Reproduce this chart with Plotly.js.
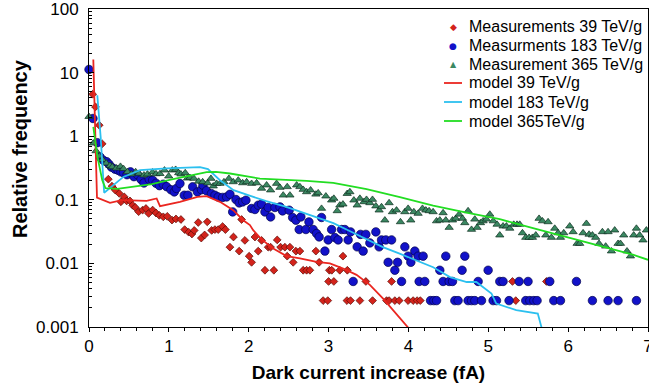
<!DOCTYPE html>
<html>
<head>
<meta charset="utf-8">
<script src="https://cdn.plot.ly/plotly-3.0.1.min.js"></script>
<style>html,body{margin:0;padding:0;background:#fff;}#chart{width:649px;height:390px;}</style>
</head>
<body>
<div id="chart"></div>
<script>
// Measurements 39 TeV/g
const redX = [0.046,0.081,0.128,0.165,0.242,0.288,0.329,0.379,0.40,0.442,
  0.472,0.513,0.547,0.579,0.622,0.672,0.713,0.747,0.797,0.839,
  0.88,0.93,0.98,1.039,1.089,1.151,1.198,1.248,1.289,1.318,
  1.368,1.406,1.448,1.481,1.536,1.577,1.618,1.673,1.708,1.765,
  1.809,1.881,1.911,1.952,2.006,2.036,2.078,2.119,2.161,2.203,
  2.244,2.274,2.315,2.357,2.399,2.453,2.482,2.516,2.557,2.591,
  2.641,2.682,2.725,2.766,2.841,2.882,2.932,2.99,3.0,3.01,
  3.04,3.066,3.14,3.18,3.23,3.235,3.275,3.392,3.467,3.551,
  3.726,3.758,3.789,3.83,3.884,3.996,4.059,4.109,4.149,5.303,
  5.344,5.728];
const redY = [4.57,2.89,1.49,0.76,0.211,0.164,0.142,0.126,0.093,0.111,
  0.096,0.096,0.082,0.076,0.065,0.069,0.073,0.061,0.069,0.062,
  0.057,0.054,0.055,0.048,0.050,0.049,0.034,0.031,0.029,0.033,
  0.044,0.025,0.028,0.045,0.033,0.034,0.034,0.038,0.034,0.018,
  0.026,0.0156,0.049,0.023,0.013,0.0104,0.026,0.0156,0.023,0.0078,
  0.018,0.018,0.0078,0.0234,0.018,0.018,0.013,0.018,0.0104,0.0156,
  0.0156,0.0078,0.0078,0.0078,0.0156,0.0104,0.0026,0.0026,0.0052,0.0078,
  0.0078,0.0052,0.0078,0.013,0.0026,0.0078,0.0026,0.0026,0.0052,0.0026,
  0.0026,0.0026,0.0052,0.0026,0.0026,0.0026,0.0026,0.0026,0.0026,0.0052,
  0.0026,0.0052];

// Measurments 183 TeV/g
const blueX = [0,0.05,0.104,0.138,0.179,0.222,0.25,0.282,0.325,0.363,
  0.40,0.432,0.476,0.519,0.563,0.607,0.651,0.688,0.755,0.797,
  0.839,0.882,0.93,0.972,1.026,1.068,1.095,1.139,1.193,1.239,
  1.298,1.358,1.408,1.427,1.471,1.533,1.577,1.618,1.673,1.723,
  1.765,1.799,1.84,1.881,1.924,1.965,2.036,2.078,2.119,2.161,
  2.203,2.244,2.274,2.328,2.391,2.424,2.507,2.55,2.591,2.632,
  2.653,2.716,2.754,2.807,2.85,2.882,2.912,2.954,2.995,3.038,
  3.079,3.12,3.163,3.204,3.245,3.275,3.308,3.358,3.40,3.433,
  3.467,3.517,3.592,3.633,3.663,3.717,3.746,3.789,3.83,3.864,
  3.914,3.955,3.996,4.03,4.08,4.121,4.134,4.184,4.205,4.277,
  4.318,4.352,4.393,4.434,4.468,4.51,4.552,4.581,4.622,4.672,
  4.706,4.747,4.79,4.831,4.873,4.915,4.998,5.06,5.103,5.144,
  5.185,5.26,5.386,5.469,5.498,5.52,5.57,5.611,5.77,5.82,
  5.904,6.104,6.304,6.50,6.625,6.855];
const blueY = [11.2,1.90,0.79,0.473,0.420,0.397,0.363,0.326,0.303,0.292,
  0.275,0.267,0.248,0.275,0.231,0.248,0.209,0.184,0.209,0.203,
  0.182,0.167,0.176,0.161,0.144,0.133,0.151,0.180,0.118,0.118,
  0.160,0.133,0.144,0.170,0.139,0.125,0.118,0.111,0.109,0.111,
  0.122,0.0645,0.101,0.0894,0.0927,0.0986,0.073,0.0704,0.0822,0.0852,
  0.0645,0.0757,0.0538,0.0757,0.0774,0.0669,0.0686,0.0527,0.0478,0.0341,
  0.0538,0.0341,0.0449,0.0341,0.0295,0.0261,0.0527,0.0156,0.0234,0.0341,
  0.0255,0.0234,0.0341,0.0341,0.0234,0.0313,0.0052,0.0182,0.0286,0.0156,
  0.0286,0.021,0.0313,0.0182,0.0234,0.0234,0.0104,0.0234,0.0078,0.0104,
  0.0052,0.0182,0.013,0.0104,0.0156,0.013,0.0052,0.013,0.0052,0.0026,
  0.0026,0.0026,0.0078,0.0052,0.013,0.0052,0.0052,0.0026,0.0026,0.0078,
  0.013,0.0026,0.0026,0.0026,0.0052,0.0026,0.0078,0.0026,0.0026,0.0052,
  0.0052,0.0026,0.0052,0.0026,0.0052,0.0026,0.0026,0.0026,0.0052,0.0026,
  0.0026,0.0052,0.0026,0.0026,0.0026,0.0026];

// Measurement 365 TeV/g
const greenX = [0,0.054,0.088,0.129,0.169,0.215,0.263,0.292,0.342,0.394,
  0.432,0.482,0.529,0.584,0.626,0.688,0.732,0.795,0.839,0.889,
  0.945,0.998,1.043,1.085,1.123,1.151,1.205,1.233,1.264,1.314,
  1.373,1.423,1.486,1.527,1.556,1.598,1.64,1.69,1.752,1.806,
  1.869,1.924,1.974,2.036,2.099,2.161,2.224,2.274,2.349,2.391,
  2.432,2.482,2.516,2.60,2.641,2.682,2.725,2.775,2.841,2.87,
  2.912,2.966,3.038,3.066,3.108,3.141,3.18,3.233,3.267,3.317,
  3.358,3.392,3.442,3.475,3.517,3.55,3.592,3.633,3.663,3.705,
  3.758,3.80,3.851,3.90,3.955,3.996,4.03,4.068,4.121,4.176,
  4.218,4.259,4.309,4.352,4.393,4.434,4.468,4.51,4.552,4.593,
  4.635,4.677,4.706,4.747,4.79,4.831,4.86,4.902,4.935,4.977,
  5.019,5.062,5.11,5.144,5.185,5.227,5.269,5.319,5.36,5.394,
  5.428,5.469,5.511,5.553,5.595,5.636,5.678,5.72,5.749,5.791,
  5.832,5.874,5.904,5.945,6.02,6.062,6.112,6.145,6.187,6.229,
  6.262,6.304,6.345,6.387,6.429,6.47,6.50,6.542,6.583,6.625,
  6.655,6.696,6.737,6.78,6.821,6.855,6.896,6.937,6.98];
const greenY = [2.03,0.776,0.587,0.485,0.427,0.376,0.344,0.329,0.314,0.334,
  0.308,0.275,0.253,0.275,0.259,0.244,0.253,0.272,0.255,0.257,
  0.292,0.235,0.292,0.299,0.265,0.253,0.265,0.218,0.223,0.216,
  0.195,0.191,0.183,0.216,0.164,0.180,0.180,0.191,0.216,0.191,
  0.203,0.184,0.191,0.180,0.184,0.151,0.170,0.142,0.180,0.156,
  0.118,0.160,0.118,0.170,0.160,0.145,0.133,0.142,0.122,0.128,
  0.073,0.114,0.0986,0.105,0.0669,0.0822,0.0852,0.125,0.133,0.0986,
  0.0822,0.105,0.0927,0.101,0.0894,0.101,0.0796,0.0686,0.0774,0.0478,
  0.0894,0.0645,0.0686,0.0449,0.0645,0.073,0.0478,0.0645,0.0609,0.073,
  0.0686,0.0669,0.0645,0.0464,0.0478,0.0622,0.0478,0.0366,0.0478,0.0508,
  0.059,0.0508,0.0434,0.0669,0.0341,0.0494,0.0366,0.0434,0.0464,0.0494,
  0.059,0.0464,0.041,0.0278,0.0385,0.0385,0.0355,0.041,0.041,0.041,
  0.0301,0.0255,0.0255,0.0255,0.0278,0.0508,0.0464,0.0278,0.0449,0.0255,
  0.0355,0.0301,0.0255,0.0301,0.0385,0.0313,0.0205,0.0205,0.0301,0.0423,
  0.0286,0.0278,0.0255,0.0205,0.0313,0.0186,0.0313,0.0156,0.0333,0.0205,
  0.0205,0.0278,0.0156,0.013,0.0278,0.0355,0.0278,0.0232,0.0333];

// model 39 TeV/g
const model39X = [0.054,0.10,0.263,0.409,0.722,0.847,0.889,1.139,1.358,1.473,
  1.64,1.806,1.931,2.015,2.056,2.161,2.307,2.474,2.641,2.85,
  3.016,3.183,3.35,3.517,3.683,3.851,3.996];
const model39Y = [16.1,0.108,0.0894,0.0986,0.096,0.105,0.0796,0.093,0.111,0.114,
  0.093,0.0686,0.0478,0.040,0.0333,0.0238,0.0171,0.013,0.0120,0.0106,
  0.0100,0.0083,0.0066,0.0046,0.0028,0.0016,0.00098];

// model 183 TeV/g
const model183X = [0.104,0.146,0.19,0.30,0.43,0.64,0.97,1.39,1.49,1.64,
  1.81,2.03,2.22,2.47,2.77,3.06,3.27,3.48,3.68,3.89,
  4.10,4.31,4.52,4.73,4.85,4.98,5.04,5.10,5.35,5.62,5.67];
const model183Y = [4.41,0.965,0.129,0.170,0.229,0.292,0.311,0.326,0.303,0.203,
  0.142,0.114,0.095,0.0774,0.0573,0.0429,0.0321,0.0236,0.018,0.0142,
  0.0110,0.0087,0.0061,0.0051,0.0051,0.0038,0.00336,0.00234,0.00184,0.00163,0.00095];

// model 365TeV/g
const model365X = [0.054,0.104,0.166,0.207,0.354,0.563,0.789,1.023,1.27,1.473,
  1.59,1.765,2.14,2.39,2.725,3.058,3.476,3.893,4.31,4.727,
  5.144,5.56,5.98,6.395,6.81,7.0];
const model365Y = [1.40,0.485,0.203,0.152,0.149,0.160,0.176,0.207,0.244,0.272,
  0.275,0.259,0.216,0.209,0.198,0.184,0.147,0.110,0.0807,0.0627,
  0.0495,0.0358,0.0258,0.0186,0.0137,0.0114];

const seriesNames = ['Measurements 39 TeV/g', 'Measurments 183 TeV/g', 'Measurement 365 TeV/g',
  'model 39 TeV/g', 'model 183 TeV/g', 'model 365TeV/g'];

const yTickVals = [0.001,0.01,0.1,1,10,100];
const yTickText = ['0.001','0.01','0.1','1','10','100'];
const yMinorVals = [0.002,0.003,0.004,0.005,0.006,0.007,0.008,0.009,
  0.02,0.03,0.04,0.05,0.06,0.07,0.08,0.09,
  0.2,0.3,0.4,0.5,0.6,0.7,0.8,0.9,
  2,3,4,5,6,7,8,9,
  20,30,40,50,60,70,80,90];

const FONT = 'Liberation Sans, Arial, sans-serif';
const C = {
  red: '#d3231b', redEdge: '#5a0a05',
  blue: '#1212c9', blueEdge: '#05054a',
  green: '#3b8862', greenEdge: '#0e2e1f',
  lred: '#ea2620', lcyan: '#2cc0ef', lgreen: '#22dd22'
};

const traces = [
  {x: redX, y: redY, type: 'scatter', mode: 'markers', name: seriesNames[0], cliponaxis: false,
   marker: {symbol: 'diamond', size: 6, color: C.red, line: {color: C.redEdge, width: 0.7}}},
  {x: blueX, y: blueY, type: 'scatter', mode: 'markers', name: seriesNames[1], cliponaxis: false,
   marker: {symbol: 'circle', size: 8.5, color: C.blue, line: {color: C.blueEdge, width: 0.7}}},
  {x: greenX, y: greenY, type: 'scatter', mode: 'markers', name: seriesNames[2], cliponaxis: false,
   marker: {symbol: 'triangle-up', size: 7.2, color: C.green, line: {color: C.greenEdge, width: 0.7}}},
  {x: model39X, y: model39Y, type: 'scatter', mode: 'lines', name: seriesNames[3],
   line: {color: C.lred, width: 1.8}},
  {x: model183X, y: model183Y, type: 'scatter', mode: 'lines', name: seriesNames[4],
   line: {color: C.lcyan, width: 1.8}},
  {x: model365X, y: model365Y, type: 'scatter', mode: 'lines', name: seriesNames[5],
   line: {color: C.lgreen, width: 1.8}}
];

// ---- hand-placed legend (layout only) ----
const PL = 89, PR = 648, PT = 9, PB = 327;
const px2x = p => (p - PL) / (PR - PL);
const py2y = p => (PB - p) / (PB - PT);
const legendRowsY = [27, 45.5, 64.5, 83, 102, 121];
const legendSym = [
  {g: '◆', c: C.red, s: 9},
  {g: '●', c: C.blue, s: 9},
  {g: '▲', c: C.green, s: 8}
];
const legendLineColors = [C.lred, C.lcyan, C.lgreen];
const annotations = [];
const shapes = [];
seriesNames.forEach((nm, i) => {
  annotations.push({xref: 'paper', yref: 'paper', x: px2x(467), y: py2y(legendRowsY[i]),
    xanchor: 'left', yanchor: 'middle', showarrow: false, text: nm,
    font: {family: FONT, size: 16, color: '#000'}});
  if (i < 3) {
    annotations.push({xref: 'paper', yref: 'paper', x: px2x(453), y: py2y(legendRowsY[i]),
      xanchor: 'center', yanchor: 'middle', showarrow: false, text: legendSym[i].g,
      font: {family: 'DejaVu Sans', size: legendSym[i].s, color: legendSym[i].c}});
  } else {
    shapes.push({type: 'line', xref: 'paper', yref: 'paper',
      x0: px2x(444), x1: px2x(462), y0: py2y(legendRowsY[i]), y1: py2y(legendRowsY[i]),
      line: {color: legendLineColors[i - 3], width: 1.8}});
  }
});
annotations.push({xref: 'paper', yref: 'paper', x: px2x(20), y: py2y(149),
  xanchor: 'center', yanchor: 'middle', showarrow: false, textangle: -90,
  text: 'Relative frequency', font: {family: FONT, size: 20, color: '#000', weight: 'bold'}});

const layout = {
  width: 649, height: 390,
  margin: {l: 89, r: 1, t: 9, b: 63, pad: 0},
  paper_bgcolor: '#ffffff', plot_bgcolor: '#ffffff',
  font: {family: FONT, color: '#000'},
  showlegend: false,
  annotations: annotations,
  shapes: shapes,
  xaxis: {
    range: [0, 7], tick0: 0, dtick: 1,
    ticks: 'outside', ticklen: 4, tickwidth: 1, tickcolor: '#000',
    minor: {dtick: 0.2, ticks: 'outside', ticklen: 3, tickwidth: 1, tickcolor: '#000', showgrid: false},
    showline: true, linecolor: '#000', linewidth: 1, mirror: true,
    showgrid: false, zeroline: false, ticklabeloverflow: 'allow',
    tickfont: {family: FONT, size: 17, color: '#000'},
    title: {text: 'Dark current increase (fA)', standoff: 10,
      font: {family: FONT, size: 19, color: '#000', weight: 'bold'}}
  },
  yaxis: {
    type: 'log', range: [-3, 2],
    tickmode: 'array', tickvals: yTickVals, ticktext: yTickText,
    ticks: 'inside', ticklen: 5, tickwidth: 1, tickcolor: '#000',
    minor: {tickmode: 'array', tickvals: yMinorVals, ticks: 'inside', ticklen: 3, tickwidth: 1, tickcolor: '#000', showgrid: false},
    showline: true, linecolor: '#000', linewidth: 1, mirror: true,
    showgrid: false, zeroline: false, ticklabeloverflow: 'allow',
    tickfont: {family: FONT, size: 17, color: '#000'},
    ticklabelstandoff: 6
  }
};

Plotly.newPlot('chart', traces, layout, {staticPlot: true, displayModeBar: false});
</script>
</body>
</html>
